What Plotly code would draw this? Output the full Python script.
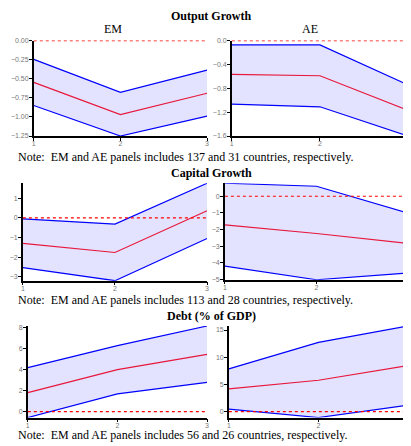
import plotly.graph_objects as go

x_vals = [1, 2, 3]

out_em_upper = [-0.246, -0.677, -0.388]
out_em_mean = [-0.547, -0.97, -0.69]
out_em_lower = [-0.85, -1.25, -0.99]

out_ae_upper = [-0.072, -0.072, -0.745]
out_ae_mean = [-0.568, -0.59, -1.17]
out_ae_lower = [-1.065, -1.11, -1.6]

cap_em_upper = [-0.05, -0.32, 1.75]
cap_em_mean = [-1.3, -1.76, 0.36]
cap_em_lower = [-2.53, -3.19, -1.05]

cap_ae_upper = [0.78, 0.6, -1.02]
cap_ae_mean = [-1.72, -2.24, -2.84]
cap_ae_lower = [-4.2, -5.02, -4.62]

debt_em_upper = [4.19, 6.29, 8.16]
debt_em_mean = [1.81, 4.0, 5.46]
debt_em_lower = [-0.57, 1.68, 2.79]

debt_ae_upper = [7.84, 12.74, 15.74]
debt_ae_mean = [4.16, 5.76, 8.45]
debt_ae_lower = [0.43, -1.1, 1.16]

section_titles = ["Output Growth", "Capital Growth", "Debt (% of GDP)"]
panel_titles = ["EM", "AE"]
notes = [
    "Note:\u00a0 EM and AE panels includes 137 and 31 countries, respectively.",
    "Note:\u00a0 EM and AE panels includes 113 and 28 countries, respectively.",
    "Note:\u00a0 EM and AE panels includes 56 and 26 countries, respectively.",
]

W, H = 411, 446
DX, DY = 8, 9  # page offset of the plot inside the browser window

panels = [
    # (upper, mean, lower, px_x0, px_x1, px_ytop, px_ybot, dtick, fmt)
    (out_em_upper, out_em_mean, out_em_lower, 32, 207, 38, 135, 0.25, ".2f"),
    (out_ae_upper, out_ae_mean, out_ae_lower, 232, 410, 38, 135, 0.4, ".1f"),
    (cap_em_upper, cap_em_mean, cap_em_lower, 21, 207, 183, 282, 1, "d"),
    (cap_ae_upper, cap_ae_mean, cap_ae_lower, 225, 410, 183, 281, 1, "d"),
    (debt_em_upper, debt_em_mean, debt_em_lower, 26, 207, 328, 421, 2, "d"),
    (debt_ae_upper, debt_ae_mean, debt_ae_lower, 229, 410, 328, 421, 5, "d"),
]


def fx(px):
    return (px - DX) / W


def fy(py):
    return 1 - (py - DY) / H


tick_font = dict(family="Liberation Sans", size=7, color="#777777")

fig = go.Figure()
layout = {}
shapes = []
for i, (up, mn, lo, x0, x1, yt, yb, dt, fmt) in enumerate(panels):
    n = i + 1
    xa = "x" if n == 1 else f"x{n}"
    ya = "y" if n == 1 else f"y{n}"
    fig.add_trace(go.Scatter(x=x_vals, y=lo, mode="lines", line=dict(color="blue", width=1.2),
                             xaxis=xa, yaxis=ya, showlegend=False, hoverinfo="skip"))
    fig.add_trace(go.Scatter(x=x_vals, y=up, mode="lines", line=dict(color="blue", width=1.2),
                             fill="tonexty", fillcolor="rgba(0,0,255,0.11)",
                             xaxis=xa, yaxis=ya, showlegend=False, hoverinfo="skip"))
    fig.add_trace(go.Scatter(x=x_vals, y=mn, mode="lines", line=dict(color="#e8183c", width=1.2),
                             xaxis=xa, yaxis=ya, showlegend=False, hoverinfo="skip"))
    ymin = min(min(lo), 0)
    ymax = max(max(up), 0)
    xkey = "xaxis" if n == 1 else f"xaxis{n}"
    ykey = "yaxis" if n == 1 else f"yaxis{n}"
    layout[xkey] = dict(domain=[fx(x0), min(fx(x1), 1)], anchor=ya, range=[1, 3],
                        tickvals=x_vals, ticktext=[str(v) for v in x_vals],
                        showline=True, linecolor="black", linewidth=1.5,
                        ticks="outside", ticklen=3, tickcolor="black",
                        ticklabelstandoff=-3,
                        showgrid=False, zeroline=False, tickfont=tick_font)
    layout[ykey] = dict(domain=[fy(yb), fy(yt)], anchor=xa, range=[ymin, ymax],
                        dtick=dt, tick0=0, tickformat=fmt,
                        showline=True, linecolor="black", linewidth=1.5,
                        ticks="outside", ticklen=3, tickcolor="black",
                        ticklabelstandoff=-1,
                        showgrid=False, zeroline=False, tickfont=tick_font)
    shapes.append(dict(type="line", xref=f"{xa} domain", yref=ya, x0=0, x1=1, y0=0, y1=0,
                       line=dict(color="red", width=1.2, dash="dot"), layer="above"))

annotations = []
serif = "Liberation Serif"
title_y = [13, 173, 318]
note_y = [156, 302, 439]
for k in range(3):
    annotations.append(dict(text=f"<b>{section_titles[k]}</b>", x=fx(211), y=fy(title_y[k]),
                            xref="paper", yref="paper", showarrow=False,
                            font=dict(family=serif, size=12, color="black"),
                            xanchor="center", yanchor="middle"))
    annotations.append(dict(text=notes[k], x=fx(14), y=fy(note_y[k]),
                            xref="paper", yref="paper", showarrow=False,
                            font=dict(family=serif, size=12, color="black"),
                            xanchor="left", yanchor="middle"))
annotations.append(dict(text=panel_titles[0], x=fx(112), y=fy(26), xref="paper", yref="paper",
                        showarrow=False, font=dict(family=serif, size=12, color="black"),
                        xanchor="center", yanchor="middle"))
annotations.append(dict(text=panel_titles[1], x=fx(311), y=fy(26), xref="paper", yref="paper",
                        showarrow=False, font=dict(family=serif, size=12, color="black"),
                        xanchor="center", yanchor="middle"))

fig.update_layout(width=W, height=H, margin=dict(l=0, r=0, t=0, b=0),
                  plot_bgcolor="white", paper_bgcolor="white",
                  shapes=shapes, annotations=annotations, **layout)

fig.write_html("out.html")
